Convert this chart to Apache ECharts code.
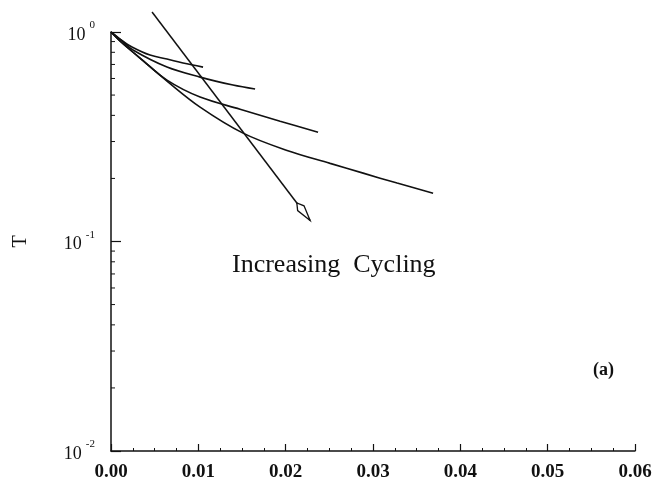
<!DOCTYPE html>
<html>
<head>
<meta charset="utf-8">
<script src="https://cdn.jsdelivr.net/npm/echarts@6/dist/echarts.min.js"></script>
<style>
  html, body { margin: 0; padding: 0; background: #fff; }
  #chart { width: 656px; height: 488px; }
</style>
</head>
<body>
<div id="chart"></div>
<script>
// Strain (x) versus normalised quantity T (log scale) for four cycling levels
const curve1X = [0, 0.00115, 0.0024, 0.00447, 0.00641, 0.00825, 0.01054];
const curve1T = [1, 0.916, 0.848, 0.776, 0.743, 0.711, 0.680];

const curve2X = [0, 0.00115, 0.00252, 0.00641, 0.0102, 0.01397, 0.0165];
const curve2T = [1, 0.916, 0.820, 0.680, 0.609, 0.558, 0.534];

const curve3X = [0, 0.00115, 0.00332, 0.00641, 0.0102, 0.01478, 0.01936, 0.02371];
const curve3T = [1, 0.896, 0.751, 0.589, 0.489, 0.428, 0.375, 0.332];

const curve4X = [0, 0.00115, 0.00332, 0.00641, 0.0102, 0.01512, 0.02016, 0.02509, 0.02887, 0.03276, 0.03688];
const curve4T = [1, 0.896, 0.751, 0.583, 0.438, 0.329, 0.272, 0.236, 0.212, 0.190, 0.170];

// Direction arrow ("Increasing Cycling"): start and tip
const arrowX = [0.0047, 0.0228];
const arrowT = [1.246, 0.126];

// Minor tick values on the logarithmic axis
const yMinorTicks = [0.9, 0.8, 0.7, 0.6, 0.5, 0.4, 0.3, 0.2,
                     0.09, 0.08, 0.07, 0.06, 0.05, 0.04, 0.03, 0.02];

const annotationText = 'Increasing  Cycling';
const panelLabel = '(a)';
const yAxisName = 'T';

const INK = '#111';
const SERIF = '"Liberation Serif", "DejaVu Serif", serif';

function pairs(xs, ys) { return xs.map((x, i) => [x, ys[i]]); }

function curveSeries(xs, ys) {
  return {
    type: 'line',
    data: pairs(xs, ys),
    smooth: 0.35,
    symbol: 'none',
    lineStyle: { color: INK, width: 1.6 },
    silent: true,
    z: 3
  };
}

const chart = echarts.init(document.getElementById('chart'), null, { renderer: 'canvas' });

chart.setOption({
  animation: false,
  backgroundColor: '#fff',
  grid: { left: 111, right: 21, top: 32, bottom: 37, containLabel: false, outerBoundsMode: 'none' },
  xAxis: {
    type: 'value',
    min: 0,
    max: 0.06,
    interval: 0.01,
    axisLine: { show: true, onZero: false, lineStyle: { color: INK, width: 1.5 } },
    axisTick: { show: true, inside: true, length: 7, lineStyle: { color: INK, width: 1.2 } },
    minorTick: { show: true, splitNumber: 4, length: 3, lineStyle: { color: INK, width: 1 } },
    splitLine: { show: false },
    minorSplitLine: { show: false },
    axisLabel: {
      show: true,
      margin: 12,
      color: INK,
      fontFamily: SERIF,
      fontWeight: 'bold',
      fontSize: 19,
      showMinLabel: true,
      showMaxLabel: true,
      formatter: v => v.toFixed(2)
    }
  },
  yAxis: {
    type: 'log',
    logBase: 10,
    min: 0.01,
    max: 1,
    splitNumber: 2,
    name: yAxisName,
    nameLocation: 'middle',
    nameRotate: 90,
    nameGap: 80,
    nameTextStyle: { color: INK, fontFamily: SERIF, fontSize: 20 },
    axisLine: { show: true, lineStyle: { color: INK, width: 1.5 } },
    axisTick: { show: true, inside: true, length: 10, lineStyle: { color: INK, width: 1.2 } },
    splitLine: { show: false },
    axisLabel: {
      show: true,
      margin: 16,
      color: INK,
      fontFamily: SERIF,
      formatter: v => '{b|10}{s|' + Math.round(Math.log10(v)) + '}',
      rich: {
        b: { fontFamily: SERIF, fontSize: 18, color: INK, lineHeight: 24, verticalAlign: 'bottom', padding: [0, 4, 0, 0] },
        s: { fontFamily: SERIF, fontSize: 11, color: INK, lineHeight: 24, verticalAlign: 'top' }
      }
    }
  },
  graphic: [
    {
      type: 'text',
      left: 232,
      top: 252,
      silent: true,
      style: { text: annotationText, font: '26px ' + SERIF, fill: INK }
    },
    {
      type: 'text',
      left: 593,
      top: 361,
      silent: true,
      style: { text: panelLabel, font: 'bold 18px ' + SERIF, fill: INK }
    }
  ],
  series: [
    curveSeries(curve1X, curve1T),
    curveSeries(curve2X, curve2T),
    curveSeries(curve3X, curve3T),
    curveSeries(curve4X, curve4T),
    {
      // straight arrow shaft, allowed to run above the top of the axis
      type: 'line',
      data: pairs(arrowX, arrowT),
      clip: false,
      symbol: 'none',
      silent: true,
      lineStyle: { color: INK, width: 1.5 },
      z: 4
    },
    {
      // hollow kite-shaped arrow head at the end of the shaft
      type: 'custom',
      silent: true,
      clip: false,
      data: [[arrowX[0], arrowT[0], arrowX[1], arrowT[1]]],
      renderItem: function (params, api) {
        const a = api.coord([api.value(0), api.value(1)]);
        const b = api.coord([api.value(2), api.value(3)]);
        const ang = Math.atan2(b[1] - a[1], b[0] - a[0]);
        const L = 22, W = 4;
        // local frame: tip at origin, shaft along negative x
        return {
          type: 'polygon',
          x: b[0],
          y: b[1],
          rotation: -ang,
          shape: { points: [[0, 0], [-L * 0.7, W], [-L, 0], [-L * 0.7, -W]] },
          style: { fill: '#fff', stroke: INK, lineWidth: 1.3 },
          z2: 10
        };
      },
      z: 5
    },
    {
      // short inward minor ticks at the true logarithmic positions
      type: 'custom',
      silent: true,
      clip: false,
      data: yMinorTicks.map(v => [0, v]),
      renderItem: function (params, api) {
        const p = api.coord([0, api.value(1)]);
        return {
          type: 'line',
          shape: { x1: p[0], y1: p[1], x2: p[0] + 4, y2: p[1] },
          style: { stroke: INK, lineWidth: 1 }
        };
      },
      z: 2
    }
  ]
});
</script>
</body>
</html>
